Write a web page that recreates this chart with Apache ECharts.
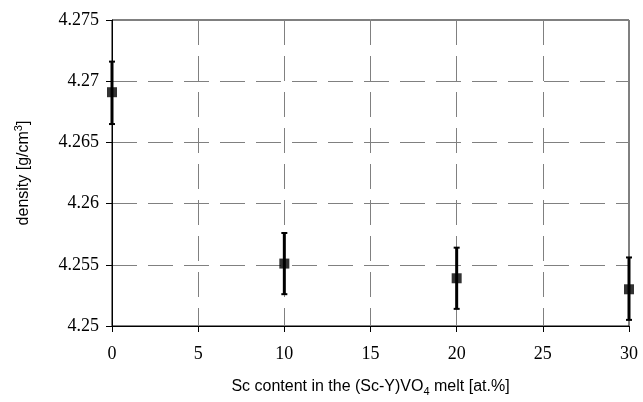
<!DOCTYPE html>
<html>
<head>
<meta charset="UTF-8">
<title>density</title>
<script src="https://cdn.jsdelivr.net/npm/echarts@6/dist/echarts.min.js"></script>
<style>
  html, body { margin: 0; padding: 0; background: #fff; }
  #main { width: 643px; height: 402px; }
</style>
</head>
<body>
<div id="main"></div>
<script>
// Sc content [at.%] and measured density
var scContent = [0, 10, 20, 30];
var density = [4.2691, 4.2551, 4.2539, 4.2530];
var errLow = [4.2665, 4.2526, 4.2514, 4.2505];
var errHigh = [4.2716, 4.2576, 4.2564, 4.2556];

var pts = [], bars = [];
for (var i = 0; i < scContent.length; i++) {
    pts.push([scContent[i], density[i]]);
    bars.push([scContent[i], errLow[i], errHigh[i]]);
}

var serif = 'Liberation Serif';
var sans = 'Liberation Sans';

var chart = echarts.init(document.getElementById('main'));
var dashGrid = { show: true, lineStyle: { color: '#808080', type: [25, 11], width: 1 } };

chart.setOption({
    animation: false,
    textStyle: { fontFamily: serif },
    grid: { left: 112, right: 14, top: 20, bottom: 75, show: true, borderColor: '#000', borderWidth: 1 },
    xAxis: {
        type: 'value', min: 0, max: 30, interval: 5,
        name: '{t|Sc content in the (Sc-Y)VO}{s|4}{t| melt [at.%]}',
        nameLocation: 'middle', nameGap: 50,
        nameTextStyle: {
            rich: {
                t: { fontFamily: sans, fontSize: 16, color: '#000' },
                s: { fontFamily: sans, fontSize: 11, color: '#000', padding: [10, 0, 0, 0] }
            }
        },
        axisLine: { lineStyle: { color: '#000' } },
        axisTick: { show: true, inside: false, length: 6, lineStyle: { color: '#000' } },
        axisLabel: {
            color: '#000', margin: 19,
            formatter: function (v) { return '{n|' + v + '}'; },
            rich: { n: { fontFamily: serif, fontSize: 18, color: '#000' } }
        },
        splitLine: dashGrid
    },
    yAxis: {
        type: 'value', min: 4.25, max: 4.275, interval: 0.005,
        name: '{t|density [g/cm}{s|3}{t|]}',
        nameLocation: 'middle', nameGap: 78,
        nameTextStyle: {
            rich: {
                t: { fontFamily: sans, fontSize: 16, color: '#000' },
                s: { fontFamily: sans, fontSize: 11, color: '#000', padding: [0, 0, 10, 0] }
            }
        },
        axisLine: { show: true, lineStyle: { color: '#000' } },
        axisTick: { show: true, length: 6, lineStyle: { color: '#000' } },
        axisLabel: {
            color: '#000', margin: 13,
            formatter: function (v) { return '{n|' + (+v.toFixed(3)) + '}'; },
            rich: { n: { fontFamily: serif, fontSize: 18, color: '#000' } }
        },
        splitLine: dashGrid
    },
    series: [
        {
            type: 'custom',
            data: bars,
            z: 3,
            renderItem: function (params, api) {
                var x = api.value(0);
                var lo = api.coord([x, api.value(1)]);
                var hi = api.coord([x, api.value(2)]);
                var st = { stroke: '#000', lineWidth: 3 };
                var cap = { stroke: '#000', lineWidth: 2 };
                return {
                    type: 'group',
                    children: [
                        { type: 'line', shape: { x1: lo[0], y1: lo[1], x2: hi[0], y2: hi[1] }, style: st },
                        { type: 'line', shape: { x1: hi[0] - 3, y1: hi[1], x2: hi[0] + 3, y2: hi[1] }, style: cap },
                        { type: 'line', shape: { x1: lo[0] - 3, y1: lo[1], x2: lo[0] + 3, y2: lo[1] }, style: cap }
                    ]
                };
            }
        },
        {
            type: 'scatter',
            data: pts,
            symbol: 'rect',
            symbolSize: 10,
            z: 4,
            itemStyle: { color: '#000' }
        }
    ]
});
</script>
</body>
</html>
